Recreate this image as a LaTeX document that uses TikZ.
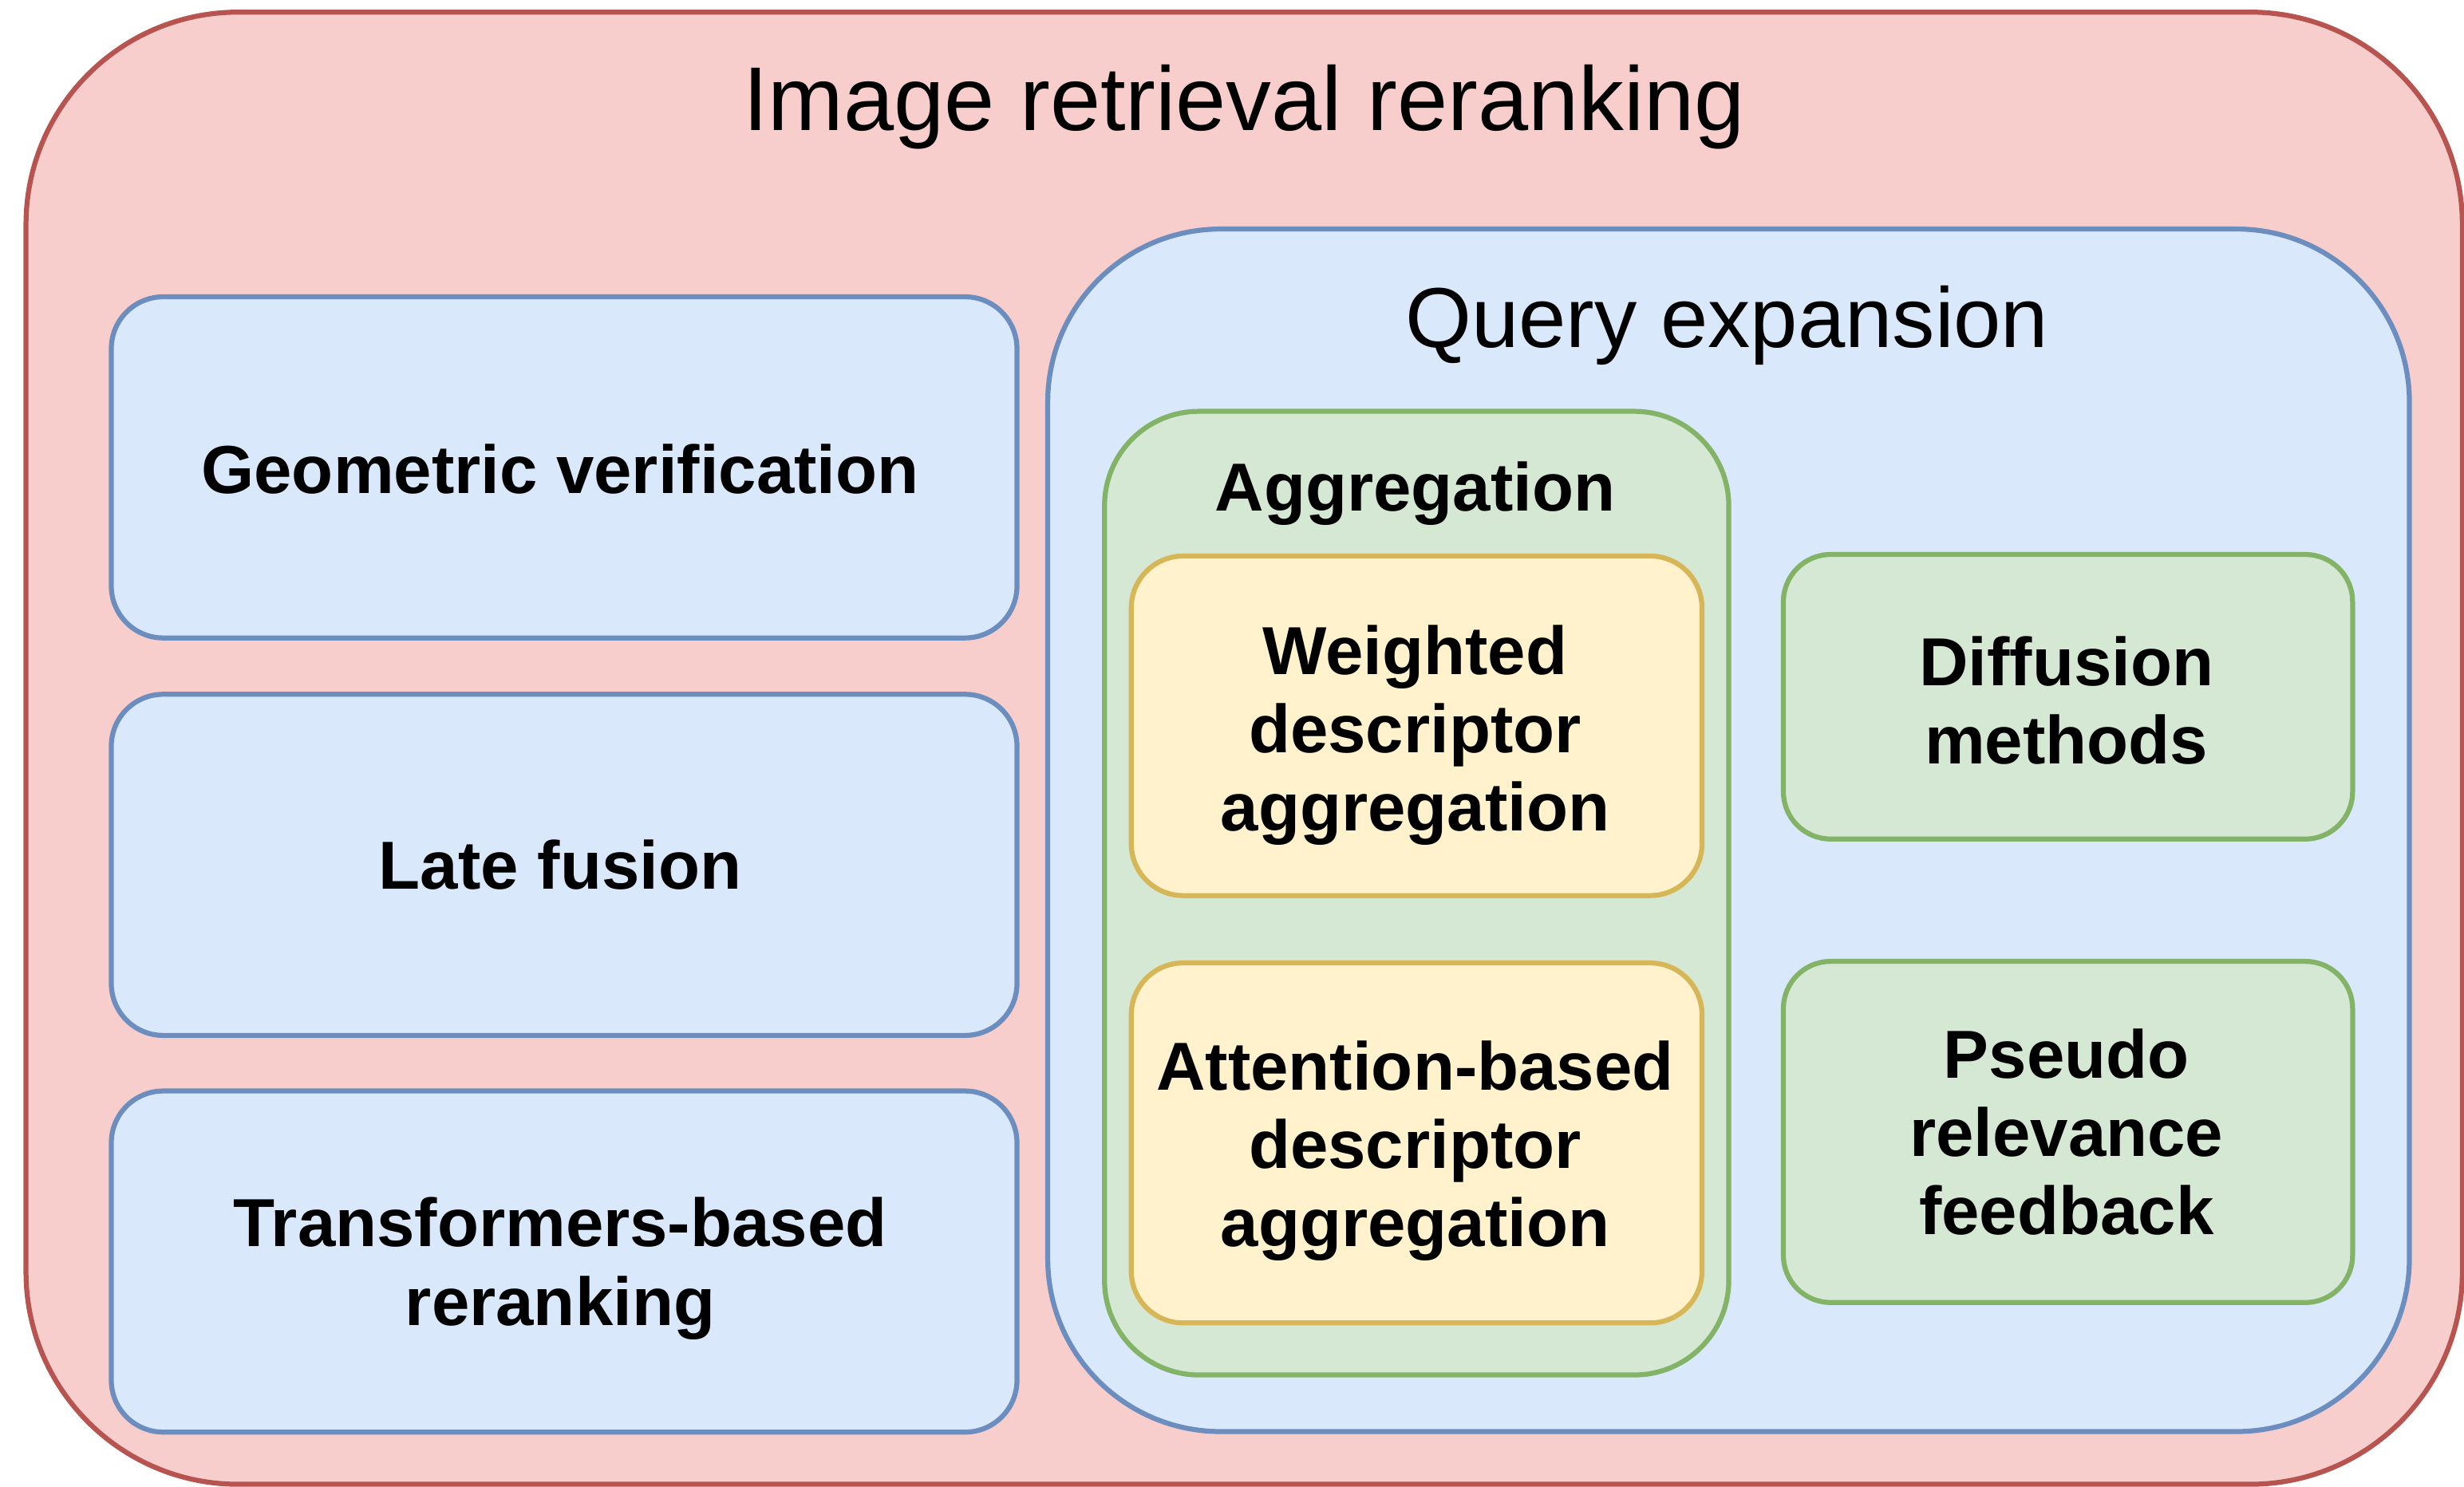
\documentclass[tikz,border=0pt]{standalone}
\usepackage{fontspec}
\setmainfont{Liberation Sans}
\definecolor{redfill}{HTML}{F8CECC}
\definecolor{redline}{HTML}{B85450}
\definecolor{bluefill}{HTML}{DAE8FC}
\definecolor{blueline}{HTML}{6C8EBF}
\definecolor{greenfill}{HTML}{D5E8D4}
\definecolor{greenline}{HTML}{82B366}
\definecolor{yellowfill}{HTML}{FFF2CC}
\definecolor{yellowline}{HTML}{D6B656}
\newcommand\bxfont{\fontsize{12.3}{14.2}\selectfont\bfseries}
\begin{document}
\begin{tikzpicture}[x=0.01cm,y=-0.01cm,
  box/.style={draw, line width=0.9pt, inner sep=0pt, align=center, font=\bxfont},
  redbox/.style={box, fill=redfill, draw=redline},
  bluebox/.style={box, fill=bluefill, draw=blueline},
  greenbox/.style={box, fill=greenfill, draw=greenline},
  yellowbox/.style={box, fill=yellowfill, draw=yellowline},
  leftbox/.style={bluebox, minimum width=5.76cm, minimum height=2.17cm, rounded corners=0.33cm},
  rightbox/.style={greenbox, minimum width=3.62cm, rounded corners=0.3cm},
  aggbox/.style={yellowbox, minimum width=3.63cm, rounded corners=0.33cm},
  txt/.style={inner sep=0pt, align=center, font=\bxfont}
]
\useasboundingbox (0,0) rectangle (1568,946.5);
% outer container
\node[redbox, minimum width=15.495cm, minimum height=9.365cm, rounded corners=1.35cm] (outer) at (791.75,476.25) {};
\node[anchor=base, font=\fontsize{16.4}{19}\selectfont] (title) at (791.75,83) {Image retrieval reranking};
% left column
\node[leftbox] (geo) at (359,297.5) {};
\node[txt] (geotxt) at (356.5,298.5) {Geometric verification};
\node[leftbox] (late) at (359,550.5) {};
\node[txt] (latetxt) at (356.5,550.5) {Late fusion};
\node[leftbox] (trans) at (359,803) {};
\node[txt] (transtxt) at (356.5,807.5) {Transformers-based\\reranking};
% query expansion
\node[bluebox, minimum width=8.66cm, minimum height=7.65cm, rounded corners=1.1cm] (qe) at (1100,528.5) {};
\node[anchor=base, font=\fontsize{15.4}{18}\selectfont] (qetitle) at (1099,221) {Query expansion};
% aggregation
\node[greenbox, minimum width=3.97cm, minimum height=6.13cm, rounded corners=0.6cm] (agg) at (901.5,568.5) {};
\node[anchor=base, font=\bxfont] (aggtitle) at (900.5,325) {Aggregation};
\node[aggbox, minimum height=2.16cm] (wda) at (901.5,462) {};
\node[txt] (wdatxt) at (900.5,468) {Weighted\\descriptor\\aggregation};
\node[aggbox, minimum height=2.29cm] (ada) at (901.5,727.5) {};
\node[txt] (adatxt) at (900.5,732.5) {Attention-based\\descriptor\\aggregation};
% right column
\node[rightbox, minimum height=1.81cm] (diff) at (1316,443.5) {};
\node[txt] (difftxt) at (1315,446) {Diffusion\\methods};
\node[rightbox, minimum height=2.17cm] (prf) at (1316,720.5) {};
\node[txt] (prftxt) at (1315,720.5) {Pseudo\\relevance\\feedback};
\end{tikzpicture}
\end{document}
